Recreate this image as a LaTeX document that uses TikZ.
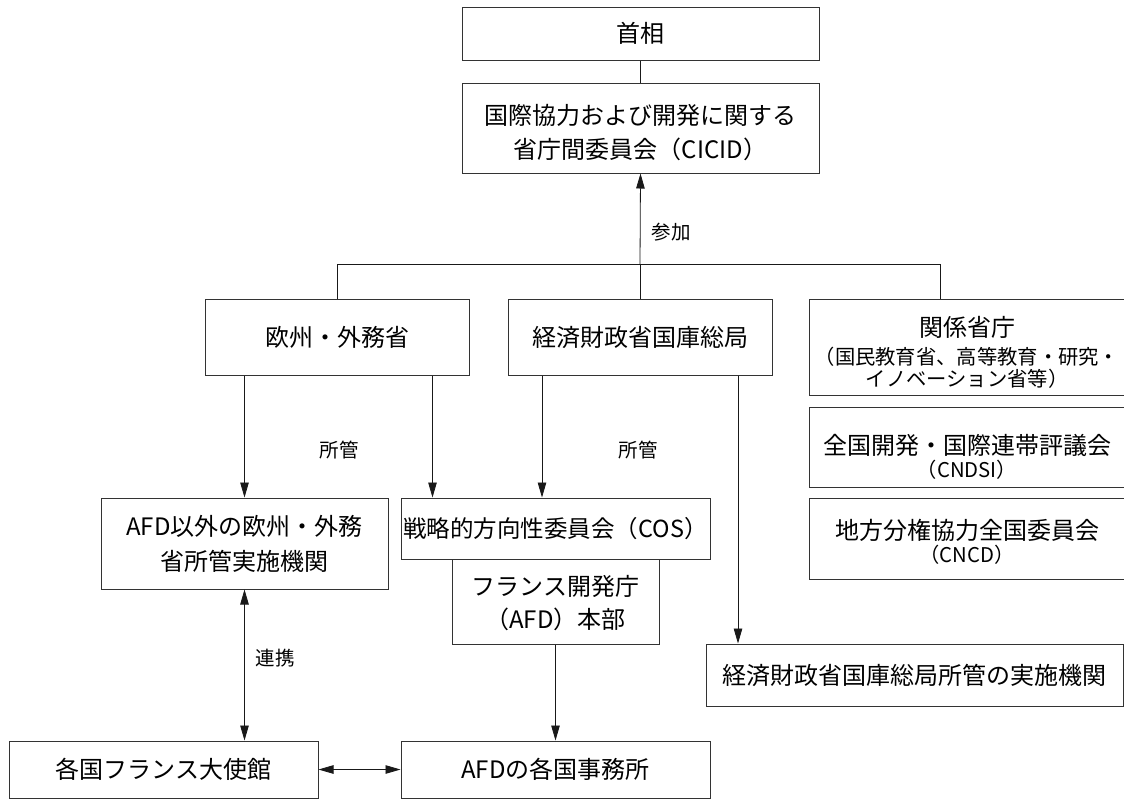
\documentclass[tikz,border=0pt]{standalone}
\usepackage{fontspec}
\setmainfont{Noto Sans CJK JP}
\usetikzlibrary{arrows.meta}
\tikzset{
  box/.style={draw=black!80, line width=1pt, inner sep=0pt, align=center,
    font=\fontsize{24}{35}\selectfont},
  txt/.style={inner sep=0pt, align=center, font=\fontsize{24}{34}\selectfont},
  small/.style={inner sep=0pt, font=\fontsize{20.3}{22}\selectfont},
  conn/.style={draw=black!90, line width=0.8pt},
  arr/.style={conn, -{Triangle[length=15pt,width=8.5pt]}},
  darr/.style={conn, {Triangle[length=15pt,width=8.5pt]}-{Triangle[length=15pt,width=8.5pt]}},
  lbl/.style={font=\fontsize{19.5}{22}\selectfont, inner sep=0pt}
}
\begin{document}
\begin{tikzpicture}[x=1pt,y=-1pt]
\useasboundingbox (0,0) rectangle (1124,801);
\fill[white] (0,0) rectangle (1124,801);

\node[box, minimum width=357, minimum height=53] (pm) at (640.5,33.5) {首相};
\node[box, minimum width=357, minimum height=90] (cicid) at (640.5,128) {};
\node[txt] (cicidt) at (640.5,133) {国際協力および開発に関する\\省庁間委員会（CICID）};
\node[box, minimum width=264, minimum height=76] (mofa) at (337,337) {欧州・外務省};
\node[box, minimum width=264, minimum height=76] (tres) at (640,337) {経済財政省国庫総局};

\node[box, minimum width=316, minimum height=96] (min) at (967,347) {};
\node[txt] (min1) at (967,327) {関係省庁};
\node[small] (min2) at (967,357) {（国民教育省、高等教育・研究・};
\node[small] (min3) at (967,378.5) {イノベーション省等）};

\node[box, minimum width=316, minimum height=80] (cndsi) at (967,447) {};
\node[txt] (cndsi1) at (967,445.5) {全国開発・国際連帯評議会};
\node[small] (cndsi2) at (967,470) {（CNDSI）};

\node[box, minimum width=316, minimum height=81] (cncd) at (967,538.5) {};
\node[txt] (cncd1) at (967,530) {地方分権協力全国委員会};
\node[small] (cncd2) at (967,555) {（CNCD）};

\node[box, minimum width=287, minimum height=91] (other) at (244.5,543.5)
  {AFD以外の欧州・外務\\省所管実施機関};
\node[box, minimum width=309, minimum height=61] (cos) at (555.5,528.5)
  {\fontsize{23.5}{30}\selectfont 戦略的方向性委員会（COS）};
\node[box, minimum width=207, minimum height=85] (afd) at (555.5,601.5) {};
\node[txt] (afdt) at (555.5,603.5) {フランス開発庁\\[-1pt]（AFD）本部};
\node[box, minimum width=417, minimum height=62] (agency) at (914.5,675)
  {経済財政省国庫総局所管の実施機関};
\node[box, minimum width=309, minimum height=57] (emb) at (163.5,769.5) {各国フランス大使館};
\node[box, minimum width=309, minimum height=57] (office) at (555.5,769.5) {AFDの各国事務所};

% top connections
\draw[conn] (pm.south) -- (cicid.north);
\coordinate (busL) at (337,264);
\coordinate (busC) at (640,264);
\coordinate (busR) at (940,264);
\draw[conn] (mofa.north) -- (busL) -- (busR) -- (busR |- min.north);
\draw[conn] (tres.north) -- (busC);
\draw[arr] (busC) -- (cicid.south);
\node[lbl] (lsanka) at (671,232) {参加};

% ministries to agencies
\draw[arr] (other.north |- mofa.south) -- (other.north);
\draw[arr] ([xshift=32]cos.north west |- mofa.south) -- ([xshift=32]cos.north west);
\draw[arr] ([xshift=-98]tres.south) -- ([xshift=-98]tres.south |- cos.north);
\draw[arr] ([xshift=98]tres.south) -- ([xshift=98]tres.south |- agency.north);
\node[lbl] (lsk1) at (339,450) {所管};
\node[lbl] (lsk2) at (638,450) {所管};

% bottom
\draw[arr] (afd.south) -- (afd.south |- office.north);
\draw[darr] (other.south) -- (other.south |- emb.north);
\node[lbl] (lrk) at (275,658) {連携};
\draw[darr] (emb.east) -- (office.west);
\end{tikzpicture}
\end{document}
